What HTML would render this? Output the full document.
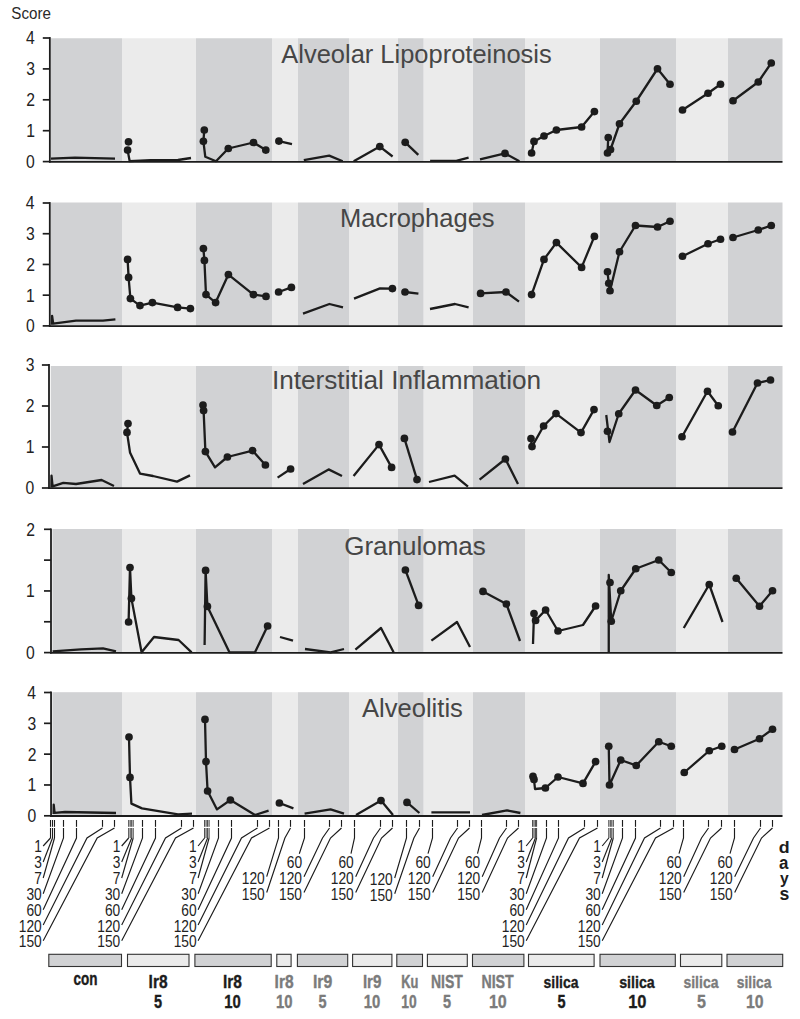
<!DOCTYPE html>
<html><head><meta charset="utf-8"><title>Histopathology scores</title>
<style>
html,body{margin:0;padding:0;background:#fff;}
body{width:800px;height:1019px;overflow:hidden;}
svg{display:block;}
text{font-family:"Liberation Sans",sans-serif;}
.num{font-size:18px;fill:#222;}
.ttl{font-size:24px;fill:#1f1f1f;}
.day{font-size:16px;fill:#222;}
.leg{font-size:16.5px;font-weight:bold;}
</style></head><body>
<svg width="800" height="1019" viewBox="0 0 800 1019">
<rect x="0" y="0" width="800" height="1019" fill="#fff"/>
<text x="0" y="0" font-size="16.13" fill="#2a2a2a" transform="translate(11.32,18.75) scale(0.9401,1.0000)">Score</text>
<g>
<rect x="51" y="38.25" width="71" height="123.35" fill="#d1d2d4"/>
<rect x="122" y="38.25" width="74" height="123.35" fill="#ebebeb"/>
<rect x="196" y="38.25" width="76" height="123.35" fill="#d1d2d4"/>
<rect x="272" y="38.25" width="26" height="123.35" fill="#ebebeb"/>
<rect x="298" y="38.25" width="51" height="123.35" fill="#d1d2d4"/>
<rect x="349" y="38.25" width="49" height="123.35" fill="#ebebeb"/>
<rect x="398" y="38.25" width="25.7" height="123.35" fill="#d1d2d4"/>
<rect x="423.7" y="38.25" width="49.3" height="123.35" fill="#ebebeb"/>
<rect x="473" y="38.25" width="52" height="123.35" fill="#d1d2d4"/>
<rect x="525" y="38.25" width="75" height="123.35" fill="#ebebeb"/>
<rect x="600" y="38.25" width="76" height="123.35" fill="#d1d2d4"/>
<rect x="676" y="38.25" width="52" height="123.35" fill="#ebebeb"/>
<rect x="728" y="38.25" width="54.5" height="123.35" fill="#d1d2d4"/>
<text x="0" y="0" font-size="25.00" fill="#464646" transform="translate(281.24,63.10) scale(1.0197,1.0000)">Alveolar Lipoproteinosis</text>
<path d="M49.85,37.1 V162.6" stroke="#1c1c1c" stroke-width="1.8" fill="none"/>
<path d="M48.95,161.8 H782.5" stroke="#1c1c1c" stroke-width="1.8" fill="none"/>
<path d="M42.8,161.6 H49.85" stroke="#1c1c1c" stroke-width="1.7" fill="none"/>
<text x="0" y="0" font-size="18.50" fill="#222" transform="translate(26.11,168.00) scale(0.8500,1)">0</text>
<path d="M42.8,130.7 H49.85" stroke="#1c1c1c" stroke-width="1.7" fill="none"/>
<text x="0" y="0" font-size="18.50" fill="#222" transform="translate(26.27,137.10) scale(0.8500,1)">1</text>
<path d="M42.8,99.8 H49.85" stroke="#1c1c1c" stroke-width="1.7" fill="none"/>
<text x="0" y="0" font-size="18.50" fill="#222" transform="translate(26.31,106.20) scale(0.8500,1)">2</text>
<path d="M42.8,68.9 H49.85" stroke="#1c1c1c" stroke-width="1.7" fill="none"/>
<text x="0" y="0" font-size="18.50" fill="#222" transform="translate(26.19,75.30) scale(0.8500,1)">3</text>
<path d="M42.8,38 H49.85" stroke="#1c1c1c" stroke-width="1.7" fill="none"/>
<text x="0" y="0" font-size="18.50" fill="#222" transform="translate(25.96,44.40) scale(0.8500,1)">4</text>
<polyline points="51,158.6 75,157.6 115,158.6" fill="none" stroke="#1c1c1c" stroke-width="2.3" stroke-linejoin="round" stroke-linecap="butt"/>
<polyline points="127.6,150.1 129.7,161.2 150.6,160.1 178,160 191,158" fill="none" stroke="#1c1c1c" stroke-width="2.3" stroke-linejoin="round" stroke-linecap="butt"/>
<circle cx="128.5" cy="141.8" r="3.85" fill="#1c1c1c"/>
<circle cx="127.6" cy="150.1" r="3.85" fill="#1c1c1c"/>
<polyline points="204.3,130 203.4,141.3 205.3,156.8 216,161.2 228.3,148.5 253.5,142.5 265.8,150.1" fill="none" stroke="#1c1c1c" stroke-width="2.3" stroke-linejoin="round" stroke-linecap="butt"/>
<circle cx="204.3" cy="130" r="3.85" fill="#1c1c1c"/>
<circle cx="203.4" cy="141.3" r="3.85" fill="#1c1c1c"/>
<circle cx="228.3" cy="148.5" r="3.85" fill="#1c1c1c"/>
<circle cx="253.5" cy="142.5" r="3.85" fill="#1c1c1c"/>
<circle cx="265.8" cy="150.1" r="3.85" fill="#1c1c1c"/>
<polyline points="278.9,141.1 292,144.2" fill="none" stroke="#1c1c1c" stroke-width="2.3" stroke-linejoin="round" stroke-linecap="butt"/>
<circle cx="278.9" cy="141.1" r="3.85" fill="#1c1c1c"/>
<polyline points="303.8,160.1 329.2,155.6 342.7,161.2" fill="none" stroke="#1c1c1c" stroke-width="2.3" stroke-linejoin="round" stroke-linecap="butt"/>
<polyline points="353.7,161.2 379.8,146.6 392.6,156.5" fill="none" stroke="#1c1c1c" stroke-width="2.3" stroke-linejoin="round" stroke-linecap="butt"/>
<circle cx="379.8" cy="146.6" r="3.85" fill="#1c1c1c"/>
<polyline points="405.2,142.3 418.3,154.9" fill="none" stroke="#1c1c1c" stroke-width="2.3" stroke-linejoin="round" stroke-linecap="butt"/>
<circle cx="405.2" cy="142.3" r="3.85" fill="#1c1c1c"/>
<polyline points="430.1,160.8 456.3,160.8 468.6,157.7" fill="none" stroke="#1c1c1c" stroke-width="2.3" stroke-linejoin="round" stroke-linecap="butt"/>
<polyline points="480,159.4 505,153.4 519.4,161.2" fill="none" stroke="#1c1c1c" stroke-width="2.3" stroke-linejoin="round" stroke-linecap="butt"/>
<circle cx="505" cy="153.4" r="3.85" fill="#1c1c1c"/>
<polyline points="531.6,153 534,141.4 544,136 556.4,130 581.6,127 594.4,111.6" fill="none" stroke="#1c1c1c" stroke-width="2.3" stroke-linejoin="round" stroke-linecap="butt"/>
<circle cx="531.6" cy="153" r="3.85" fill="#1c1c1c"/>
<circle cx="534" cy="141.4" r="3.85" fill="#1c1c1c"/>
<circle cx="544" cy="136" r="3.85" fill="#1c1c1c"/>
<circle cx="556.4" cy="130" r="3.85" fill="#1c1c1c"/>
<circle cx="581.6" cy="127" r="3.85" fill="#1c1c1c"/>
<circle cx="594.4" cy="111.6" r="3.85" fill="#1c1c1c"/>
<polyline points="608.25,137.5 607.5,153 610.5,149.5 619.5,123.75 636.25,101.25 657.5,68.75 670,84.25" fill="none" stroke="#1c1c1c" stroke-width="2.3" stroke-linejoin="round" stroke-linecap="butt"/>
<circle cx="607.5" cy="153" r="3.85" fill="#1c1c1c"/>
<circle cx="608.25" cy="137.5" r="3.85" fill="#1c1c1c"/>
<circle cx="610.5" cy="149.5" r="3.85" fill="#1c1c1c"/>
<circle cx="619.5" cy="123.75" r="3.85" fill="#1c1c1c"/>
<circle cx="636.25" cy="101.25" r="3.85" fill="#1c1c1c"/>
<circle cx="657.5" cy="68.75" r="3.85" fill="#1c1c1c"/>
<circle cx="670" cy="84.25" r="3.85" fill="#1c1c1c"/>
<polyline points="682.5,110 708,93.25 720.5,84.25" fill="none" stroke="#1c1c1c" stroke-width="2.3" stroke-linejoin="round" stroke-linecap="butt"/>
<circle cx="682.5" cy="110" r="3.85" fill="#1c1c1c"/>
<circle cx="708" cy="93.25" r="3.85" fill="#1c1c1c"/>
<circle cx="720.5" cy="84.25" r="3.85" fill="#1c1c1c"/>
<polyline points="733,100.75 758.25,82 771.25,63" fill="none" stroke="#1c1c1c" stroke-width="2.3" stroke-linejoin="round" stroke-linecap="butt"/>
<circle cx="733" cy="100.75" r="3.85" fill="#1c1c1c"/>
<circle cx="758.25" cy="82" r="3.85" fill="#1c1c1c"/>
<circle cx="771.25" cy="63" r="3.85" fill="#1c1c1c"/>
</g>
<g>
<rect x="51" y="202.5" width="71" height="123.4" fill="#d1d2d4"/>
<rect x="122" y="202.5" width="74" height="123.4" fill="#ebebeb"/>
<rect x="196" y="202.5" width="76" height="123.4" fill="#d1d2d4"/>
<rect x="272" y="202.5" width="26" height="123.4" fill="#ebebeb"/>
<rect x="298" y="202.5" width="51" height="123.4" fill="#d1d2d4"/>
<rect x="349" y="202.5" width="49" height="123.4" fill="#ebebeb"/>
<rect x="398" y="202.5" width="25.7" height="123.4" fill="#d1d2d4"/>
<rect x="423.7" y="202.5" width="49.3" height="123.4" fill="#ebebeb"/>
<rect x="473" y="202.5" width="52" height="123.4" fill="#d1d2d4"/>
<rect x="525" y="202.5" width="75" height="123.4" fill="#ebebeb"/>
<rect x="600" y="202.5" width="76" height="123.4" fill="#d1d2d4"/>
<rect x="676" y="202.5" width="52" height="123.4" fill="#ebebeb"/>
<rect x="728" y="202.5" width="54.5" height="123.4" fill="#d1d2d4"/>
<text x="0" y="0" font-size="25.00" fill="#464646" transform="translate(339.89,226.70) scale(1.0218,1.0000)">Macrophages</text>
<path d="M49.8,202.1 V326.9" stroke="#1c1c1c" stroke-width="1.8" fill="none"/>
<path d="M48.9,326.1 H782.5" stroke="#1c1c1c" stroke-width="1.8" fill="none"/>
<path d="M42.7,325.9 H49.8" stroke="#1c1c1c" stroke-width="1.7" fill="none"/>
<text x="0" y="0" font-size="18.50" fill="#222" transform="translate(25.96,332.30) scale(0.8500,1)">0</text>
<path d="M42.7,295.17 H49.8" stroke="#1c1c1c" stroke-width="1.7" fill="none"/>
<text x="0" y="0" font-size="18.50" fill="#222" transform="translate(26.12,301.57) scale(0.8500,1)">1</text>
<path d="M42.7,264.45 H49.8" stroke="#1c1c1c" stroke-width="1.7" fill="none"/>
<text x="0" y="0" font-size="18.50" fill="#222" transform="translate(26.16,270.85) scale(0.8500,1)">2</text>
<path d="M42.7,233.72 H49.8" stroke="#1c1c1c" stroke-width="1.7" fill="none"/>
<text x="0" y="0" font-size="18.50" fill="#222" transform="translate(26.04,240.12) scale(0.8500,1)">3</text>
<path d="M42.7,203 H49.8" stroke="#1c1c1c" stroke-width="1.7" fill="none"/>
<text x="0" y="0" font-size="18.50" fill="#222" transform="translate(25.81,209.40) scale(0.8500,1)">4</text>
<polyline points="52,324.8 52.1,315.8 53.2,323.6 76,320.6 103,320.6 115.4,319.4" fill="none" stroke="#1c1c1c" stroke-width="2.3" stroke-linejoin="round" stroke-linecap="butt"/>
<polyline points="127.6,259.4 128.6,277.4 130.4,298.6 140,305.6 152.4,302.6 177.6,307.4 190.4,308.6" fill="none" stroke="#1c1c1c" stroke-width="2.3" stroke-linejoin="round" stroke-linecap="butt"/>
<circle cx="127.6" cy="259.4" r="3.85" fill="#1c1c1c"/>
<circle cx="128.6" cy="277.4" r="3.85" fill="#1c1c1c"/>
<circle cx="130.4" cy="298.6" r="3.85" fill="#1c1c1c"/>
<circle cx="140" cy="305.6" r="3.85" fill="#1c1c1c"/>
<circle cx="152.4" cy="302.6" r="3.85" fill="#1c1c1c"/>
<circle cx="177.6" cy="307.4" r="3.85" fill="#1c1c1c"/>
<circle cx="190.4" cy="308.6" r="3.85" fill="#1c1c1c"/>
<polyline points="203.4,248.6 204.4,260.4 206,294.6 215.6,302.6 228.4,274.6 253.4,294.6 266,296.4" fill="none" stroke="#1c1c1c" stroke-width="2.3" stroke-linejoin="round" stroke-linecap="butt"/>
<circle cx="203.4" cy="248.6" r="3.85" fill="#1c1c1c"/>
<circle cx="204.4" cy="260.4" r="3.85" fill="#1c1c1c"/>
<circle cx="206" cy="294.6" r="3.85" fill="#1c1c1c"/>
<circle cx="215.6" cy="302.6" r="3.85" fill="#1c1c1c"/>
<circle cx="228.4" cy="274.6" r="3.85" fill="#1c1c1c"/>
<circle cx="253.4" cy="294.6" r="3.85" fill="#1c1c1c"/>
<circle cx="266" cy="296.4" r="3.85" fill="#1c1c1c"/>
<polyline points="278.6,292 291.4,287.4" fill="none" stroke="#1c1c1c" stroke-width="2.3" stroke-linejoin="round" stroke-linecap="butt"/>
<circle cx="278.6" cy="292" r="3.85" fill="#1c1c1c"/>
<circle cx="291.4" cy="287.4" r="3.85" fill="#1c1c1c"/>
<polyline points="303,313.6 329.4,304 343,307.4" fill="none" stroke="#1c1c1c" stroke-width="2.3" stroke-linejoin="round" stroke-linecap="butt"/>
<polyline points="354,298.6 380,288.4 392.4,288.6" fill="none" stroke="#1c1c1c" stroke-width="2.3" stroke-linejoin="round" stroke-linecap="butt"/>
<circle cx="392.4" cy="288.6" r="3.85" fill="#1c1c1c"/>
<polyline points="405,292 418.4,293.6" fill="none" stroke="#1c1c1c" stroke-width="2.3" stroke-linejoin="round" stroke-linecap="butt"/>
<circle cx="405" cy="292" r="3.85" fill="#1c1c1c"/>
<polyline points="430,309 455,304 468.6,307.4" fill="none" stroke="#1c1c1c" stroke-width="2.3" stroke-linejoin="round" stroke-linecap="butt"/>
<polyline points="480.6,293.4 506,292 519,301.6" fill="none" stroke="#1c1c1c" stroke-width="2.3" stroke-linejoin="round" stroke-linecap="butt"/>
<circle cx="480.6" cy="293.4" r="3.85" fill="#1c1c1c"/>
<circle cx="506" cy="292" r="3.85" fill="#1c1c1c"/>
<polyline points="532.2,291 531.6,294.6 544,259.4 556.4,242.6 581.6,267.4 594.4,236.4" fill="none" stroke="#1c1c1c" stroke-width="2.3" stroke-linejoin="round" stroke-linecap="butt"/>
<circle cx="531.6" cy="294.6" r="3.85" fill="#1c1c1c"/>
<circle cx="544" cy="259.4" r="3.85" fill="#1c1c1c"/>
<circle cx="556.4" cy="242.6" r="3.85" fill="#1c1c1c"/>
<circle cx="581.6" cy="267.4" r="3.85" fill="#1c1c1c"/>
<circle cx="594.4" cy="236.4" r="3.85" fill="#1c1c1c"/>
<polyline points="607.5,271.75 608.75,283.25 610,290.75 619.5,251.75 635.5,225.5 657.5,227 670,221.25" fill="none" stroke="#1c1c1c" stroke-width="2.3" stroke-linejoin="round" stroke-linecap="butt"/>
<circle cx="607.5" cy="271.75" r="3.85" fill="#1c1c1c"/>
<circle cx="608.75" cy="283.25" r="3.85" fill="#1c1c1c"/>
<circle cx="610" cy="290.75" r="3.85" fill="#1c1c1c"/>
<circle cx="619.5" cy="251.75" r="3.85" fill="#1c1c1c"/>
<circle cx="635.5" cy="225.5" r="3.85" fill="#1c1c1c"/>
<circle cx="657.5" cy="227" r="3.85" fill="#1c1c1c"/>
<circle cx="670" cy="221.25" r="3.85" fill="#1c1c1c"/>
<polyline points="682.5,256.25 708,243.75 720.5,239.25" fill="none" stroke="#1c1c1c" stroke-width="2.3" stroke-linejoin="round" stroke-linecap="butt"/>
<circle cx="682.5" cy="256.25" r="3.85" fill="#1c1c1c"/>
<circle cx="708" cy="243.75" r="3.85" fill="#1c1c1c"/>
<circle cx="720.5" cy="239.25" r="3.85" fill="#1c1c1c"/>
<polyline points="733,237.5 758.25,230 771.25,225.5" fill="none" stroke="#1c1c1c" stroke-width="2.3" stroke-linejoin="round" stroke-linecap="butt"/>
<circle cx="733" cy="237.5" r="3.85" fill="#1c1c1c"/>
<circle cx="758.25" cy="230" r="3.85" fill="#1c1c1c"/>
<circle cx="771.25" cy="225.5" r="3.85" fill="#1c1c1c"/>
</g>
<g>
<rect x="50.75" y="366" width="71.25" height="122" fill="#d1d2d4"/>
<rect x="122" y="366" width="74" height="122" fill="#ebebeb"/>
<rect x="196" y="366" width="76" height="122" fill="#d1d2d4"/>
<rect x="272" y="366" width="26" height="122" fill="#ebebeb"/>
<rect x="298" y="366" width="51" height="122" fill="#d1d2d4"/>
<rect x="349" y="366" width="49" height="122" fill="#ebebeb"/>
<rect x="398" y="366" width="25.7" height="122" fill="#d1d2d4"/>
<rect x="423.7" y="366" width="49.3" height="122" fill="#ebebeb"/>
<rect x="473" y="366" width="52" height="122" fill="#d1d2d4"/>
<rect x="525" y="366" width="75" height="122" fill="#ebebeb"/>
<rect x="600" y="366" width="76" height="122" fill="#d1d2d4"/>
<rect x="676" y="366" width="52" height="122" fill="#ebebeb"/>
<rect x="728" y="366" width="54.5" height="122" fill="#d1d2d4"/>
<text x="0" y="0" font-size="25.00" fill="#464646" transform="translate(271.88,389.30) scale(1.0476,1.0000)">Interstitial Inflammation</text>
<path d="M49,364.1 V489" stroke="#1c1c1c" stroke-width="1.8" fill="none"/>
<path d="M48.1,488.2 H782.5" stroke="#1c1c1c" stroke-width="1.8" fill="none"/>
<path d="M41.9,488 H49" stroke="#1c1c1c" stroke-width="1.7" fill="none"/>
<text x="0" y="0" font-size="18.50" fill="#222" transform="translate(25.56,494.40) scale(0.8500,1)">0</text>
<path d="M41.9,447 H49" stroke="#1c1c1c" stroke-width="1.7" fill="none"/>
<text x="0" y="0" font-size="18.50" fill="#222" transform="translate(25.72,453.40) scale(0.8500,1)">1</text>
<path d="M41.9,406 H49" stroke="#1c1c1c" stroke-width="1.7" fill="none"/>
<text x="0" y="0" font-size="18.50" fill="#222" transform="translate(25.76,412.40) scale(0.8500,1)">2</text>
<path d="M41.9,365 H49" stroke="#1c1c1c" stroke-width="1.7" fill="none"/>
<text x="0" y="0" font-size="18.50" fill="#222" transform="translate(25.64,371.40) scale(0.8500,1)">3</text>
<polyline points="51.4,487.5 51.5,475.6 52.6,486.4 63.3,482.8 76,484 101.6,480 114,486" fill="none" stroke="#1c1c1c" stroke-width="2.3" stroke-linejoin="round" stroke-linecap="butt"/>
<polyline points="128,423.6 127,432.4 130,452.4 140,473.6 153,476 177,481.6 190,475.4" fill="none" stroke="#1c1c1c" stroke-width="2.3" stroke-linejoin="round" stroke-linecap="butt"/>
<circle cx="128" cy="423.6" r="3.85" fill="#1c1c1c"/>
<circle cx="127" cy="432.4" r="3.85" fill="#1c1c1c"/>
<polyline points="203,405 203.6,410.6 205.4,451.6 215,467.4 227.4,457 252.6,450.6 265.4,465" fill="none" stroke="#1c1c1c" stroke-width="2.3" stroke-linejoin="round" stroke-linecap="butt"/>
<circle cx="203" cy="405" r="3.85" fill="#1c1c1c"/>
<circle cx="203.6" cy="410.6" r="3.85" fill="#1c1c1c"/>
<circle cx="205.4" cy="451.6" r="3.85" fill="#1c1c1c"/>
<circle cx="227.4" cy="457" r="3.85" fill="#1c1c1c"/>
<circle cx="252.6" cy="450.6" r="3.85" fill="#1c1c1c"/>
<circle cx="265.4" cy="465" r="3.85" fill="#1c1c1c"/>
<polyline points="277.6,477.6 290.6,469" fill="none" stroke="#1c1c1c" stroke-width="2.3" stroke-linejoin="round" stroke-linecap="butt"/>
<circle cx="290.6" cy="469" r="3.85" fill="#1c1c1c"/>
<polyline points="303,484 328.6,469.4 342,476" fill="none" stroke="#1c1c1c" stroke-width="2.3" stroke-linejoin="round" stroke-linecap="butt"/>
<polyline points="353.6,476 379,444.6 391.6,467.4" fill="none" stroke="#1c1c1c" stroke-width="2.3" stroke-linejoin="round" stroke-linecap="butt"/>
<circle cx="379" cy="444.6" r="3.85" fill="#1c1c1c"/>
<circle cx="391.6" cy="467.4" r="3.85" fill="#1c1c1c"/>
<polyline points="404.4,438.4 417,479.6" fill="none" stroke="#1c1c1c" stroke-width="2.3" stroke-linejoin="round" stroke-linecap="butt"/>
<circle cx="404.4" cy="438.4" r="3.85" fill="#1c1c1c"/>
<circle cx="417" cy="479.6" r="3.85" fill="#1c1c1c"/>
<polyline points="429,482 454.6,475.6 468,486.6" fill="none" stroke="#1c1c1c" stroke-width="2.3" stroke-linejoin="round" stroke-linecap="butt"/>
<polyline points="479.6,479.6 505.4,459 518,484" fill="none" stroke="#1c1c1c" stroke-width="2.3" stroke-linejoin="round" stroke-linecap="butt"/>
<circle cx="505.4" cy="459" r="3.85" fill="#1c1c1c"/>
<polyline points="531,438.6 532,446.6 543.6,426 556,413.6 581,432.6 594,409.6" fill="none" stroke="#1c1c1c" stroke-width="2.3" stroke-linejoin="round" stroke-linecap="butt"/>
<circle cx="531" cy="438.6" r="3.85" fill="#1c1c1c"/>
<circle cx="532" cy="446.6" r="3.85" fill="#1c1c1c"/>
<circle cx="543.6" cy="426" r="3.85" fill="#1c1c1c"/>
<circle cx="556" cy="413.6" r="3.85" fill="#1c1c1c"/>
<circle cx="581" cy="432.6" r="3.85" fill="#1c1c1c"/>
<circle cx="594" cy="409.6" r="3.85" fill="#1c1c1c"/>
<polyline points="606.25,415 609.5,442 618.75,413.75 635.5,390 656.75,405.5 669.25,397.5" fill="none" stroke="#1c1c1c" stroke-width="2.3" stroke-linejoin="round" stroke-linecap="butt"/>
<circle cx="607.5" cy="431.25" r="3.85" fill="#1c1c1c"/>
<circle cx="618.75" cy="413.75" r="3.85" fill="#1c1c1c"/>
<circle cx="635.5" cy="390" r="3.85" fill="#1c1c1c"/>
<circle cx="656.75" cy="405.5" r="3.85" fill="#1c1c1c"/>
<circle cx="669.25" cy="397.5" r="3.85" fill="#1c1c1c"/>
<polyline points="682,436.75 707.5,391.25 718.25,405.75" fill="none" stroke="#1c1c1c" stroke-width="2.3" stroke-linejoin="round" stroke-linecap="butt"/>
<circle cx="682" cy="436.75" r="3.85" fill="#1c1c1c"/>
<circle cx="707.5" cy="391.25" r="3.85" fill="#1c1c1c"/>
<circle cx="718.25" cy="405.75" r="3.85" fill="#1c1c1c"/>
<polyline points="732.5,432 757.5,383 770.5,380" fill="none" stroke="#1c1c1c" stroke-width="2.3" stroke-linejoin="round" stroke-linecap="butt"/>
<circle cx="732.5" cy="432" r="3.85" fill="#1c1c1c"/>
<circle cx="757.5" cy="383" r="3.85" fill="#1c1c1c"/>
<circle cx="770.5" cy="380" r="3.85" fill="#1c1c1c"/>
</g>
<g>
<rect x="52.4" y="529" width="69.6" height="123.6" fill="#d1d2d4"/>
<rect x="122" y="529" width="74" height="123.6" fill="#ebebeb"/>
<rect x="196" y="529" width="76" height="123.6" fill="#d1d2d4"/>
<rect x="272" y="529" width="26" height="123.6" fill="#ebebeb"/>
<rect x="298" y="529" width="51" height="123.6" fill="#d1d2d4"/>
<rect x="349" y="529" width="49" height="123.6" fill="#ebebeb"/>
<rect x="398" y="529" width="25.7" height="123.6" fill="#d1d2d4"/>
<rect x="423.7" y="529" width="49.3" height="123.6" fill="#ebebeb"/>
<rect x="473" y="529" width="52" height="123.6" fill="#d1d2d4"/>
<rect x="525" y="529" width="75" height="123.6" fill="#ebebeb"/>
<rect x="600" y="529" width="76" height="123.6" fill="#d1d2d4"/>
<rect x="676" y="529" width="52" height="123.6" fill="#ebebeb"/>
<rect x="728" y="529" width="54.5" height="123.6" fill="#d1d2d4"/>
<text x="0" y="0" font-size="25.00" fill="#464646" transform="translate(344.20,554.50) scale(1.0406,1.0000)">Granulomas</text>
<path d="M51,528.4 V653.6" stroke="#1c1c1c" stroke-width="1.8" fill="none"/>
<path d="M50.1,652.8 H782.5" stroke="#1c1c1c" stroke-width="1.8" fill="none"/>
<path d="M44,652.6 H51" stroke="#1c1c1c" stroke-width="1.7" fill="none"/>
<text x="0" y="0" font-size="18.50" fill="#222" transform="translate(25.96,659.00) scale(0.8500,1)">0</text>
<path d="M44,621.77 H51" stroke="#1c1c1c" stroke-width="1.7" fill="none"/>
<path d="M44,590.95 H51" stroke="#1c1c1c" stroke-width="1.7" fill="none"/>
<text x="0" y="0" font-size="18.50" fill="#222" transform="translate(26.12,597.35) scale(0.8500,1)">1</text>
<path d="M44,560.12 H51" stroke="#1c1c1c" stroke-width="1.7" fill="none"/>
<path d="M44,529.3 H51" stroke="#1c1c1c" stroke-width="1.7" fill="none"/>
<text x="0" y="0" font-size="18.50" fill="#222" transform="translate(26.16,535.70) scale(0.8500,1)">2</text>
<polyline points="52.6,651.4 81,649.4 103,648.4 116,651.4" fill="none" stroke="#1c1c1c" stroke-width="2.3" stroke-linejoin="round" stroke-linecap="butt"/>
<polyline points="128.6,622 130,567.6 131.4,598.4 141.6,652.3 154,637 178.6,640 191.6,652.3" fill="none" stroke="#1c1c1c" stroke-width="2.3" stroke-linejoin="round" stroke-linecap="butt"/>
<circle cx="130" cy="567.6" r="3.85" fill="#1c1c1c"/>
<circle cx="131.4" cy="598.4" r="3.85" fill="#1c1c1c"/>
<circle cx="128.6" cy="622" r="3.85" fill="#1c1c1c"/>
<polyline points="204.6,645 205.6,570.4 207.4,606.4 229.4,652.3 255,652.3 267.6,626" fill="none" stroke="#1c1c1c" stroke-width="2.3" stroke-linejoin="round" stroke-linecap="butt"/>
<circle cx="205.6" cy="570.4" r="3.85" fill="#1c1c1c"/>
<circle cx="207.4" cy="606.4" r="3.85" fill="#1c1c1c"/>
<circle cx="267.6" cy="626" r="3.85" fill="#1c1c1c"/>
<polyline points="280,637 293,640.6" fill="none" stroke="#1c1c1c" stroke-width="2.3" stroke-linejoin="round" stroke-linecap="butt"/>
<polyline points="305,649 330.6,652.3 344,649" fill="none" stroke="#1c1c1c" stroke-width="2.3" stroke-linejoin="round" stroke-linecap="butt"/>
<polyline points="355.4,649.6 381,628 393.6,652.3" fill="none" stroke="#1c1c1c" stroke-width="2.3" stroke-linejoin="round" stroke-linecap="butt"/>
<polyline points="405.4,570 418.6,605.4" fill="none" stroke="#1c1c1c" stroke-width="2.3" stroke-linejoin="round" stroke-linecap="butt"/>
<circle cx="405.4" cy="570" r="3.85" fill="#1c1c1c"/>
<circle cx="418.6" cy="605.4" r="3.85" fill="#1c1c1c"/>
<polyline points="431.4,640.6 457,622 470,647" fill="none" stroke="#1c1c1c" stroke-width="2.3" stroke-linejoin="round" stroke-linecap="butt"/>
<polyline points="483,591.4 506.4,604 520,641" fill="none" stroke="#1c1c1c" stroke-width="2.3" stroke-linejoin="round" stroke-linecap="butt"/>
<circle cx="483" cy="591.4" r="3.85" fill="#1c1c1c"/>
<circle cx="506.4" cy="604" r="3.85" fill="#1c1c1c"/>
<polyline points="533,644 534,613.6 535.6,620.4 545.6,610 558,631 583,625 595.6,606" fill="none" stroke="#1c1c1c" stroke-width="2.3" stroke-linejoin="round" stroke-linecap="butt"/>
<circle cx="534" cy="613.6" r="3.85" fill="#1c1c1c"/>
<circle cx="535.6" cy="620.4" r="3.85" fill="#1c1c1c"/>
<circle cx="545.6" cy="610" r="3.85" fill="#1c1c1c"/>
<circle cx="558" cy="631" r="3.85" fill="#1c1c1c"/>
<circle cx="595.6" cy="606" r="3.85" fill="#1c1c1c"/>
<polyline points="608.75,652.5 608.75,575 611.25,621.25 620.75,590.75 635.75,568.75 658.75,560 671.25,572.5" fill="none" stroke="#1c1c1c" stroke-width="2.3" stroke-linejoin="round" stroke-linecap="butt"/>
<circle cx="610" cy="582.5" r="3.85" fill="#1c1c1c"/>
<circle cx="611.25" cy="621.25" r="3.85" fill="#1c1c1c"/>
<circle cx="620.75" cy="590.75" r="3.85" fill="#1c1c1c"/>
<circle cx="635.75" cy="568.75" r="3.85" fill="#1c1c1c"/>
<circle cx="658.75" cy="560" r="3.85" fill="#1c1c1c"/>
<circle cx="671.25" cy="572.5" r="3.85" fill="#1c1c1c"/>
<polyline points="683.75,628 709.25,584.5 722.5,622" fill="none" stroke="#1c1c1c" stroke-width="2.3" stroke-linejoin="round" stroke-linecap="butt"/>
<circle cx="709.25" cy="584.5" r="3.85" fill="#1c1c1c"/>
<polyline points="736.25,578.25 759.5,606.25 772.5,590.75" fill="none" stroke="#1c1c1c" stroke-width="2.3" stroke-linejoin="round" stroke-linecap="butt"/>
<circle cx="736.25" cy="578.25" r="3.85" fill="#1c1c1c"/>
<circle cx="759.5" cy="606.25" r="3.85" fill="#1c1c1c"/>
<circle cx="772.5" cy="590.75" r="3.85" fill="#1c1c1c"/>
</g>
<g>
<rect x="52.4" y="692.2" width="69.6" height="123.6" fill="#d1d2d4"/>
<rect x="122" y="692.2" width="74" height="123.6" fill="#ebebeb"/>
<rect x="196" y="692.2" width="76" height="123.6" fill="#d1d2d4"/>
<rect x="272" y="692.2" width="26" height="123.6" fill="#ebebeb"/>
<rect x="298" y="692.2" width="51" height="123.6" fill="#d1d2d4"/>
<rect x="349" y="692.2" width="49" height="123.6" fill="#ebebeb"/>
<rect x="398" y="692.2" width="25.7" height="123.6" fill="#d1d2d4"/>
<rect x="423.7" y="692.2" width="49.3" height="123.6" fill="#ebebeb"/>
<rect x="473" y="692.2" width="52" height="123.6" fill="#d1d2d4"/>
<rect x="525" y="692.2" width="75" height="123.6" fill="#ebebeb"/>
<rect x="600" y="692.2" width="76" height="123.6" fill="#d1d2d4"/>
<rect x="676" y="692.2" width="52" height="123.6" fill="#ebebeb"/>
<rect x="728" y="692.2" width="54.5" height="123.6" fill="#d1d2d4"/>
<text x="0" y="0" font-size="25.00" fill="#464646" transform="translate(361.94,717.00) scale(1.0237,1.0000)">Alveolitis</text>
<path d="M51.05,691.6 V816.8" stroke="#1c1c1c" stroke-width="1.8" fill="none"/>
<path d="M50.15,816 H782.5" stroke="#1c1c1c" stroke-width="1.8" fill="none"/>
<path d="M44,815.8 H51.05" stroke="#1c1c1c" stroke-width="1.7" fill="none"/>
<text x="0" y="0" font-size="18.50" fill="#222" transform="translate(27.46,822.20) scale(0.8500,1)">0</text>
<path d="M44,784.97 H51.05" stroke="#1c1c1c" stroke-width="1.7" fill="none"/>
<text x="0" y="0" font-size="18.50" fill="#222" transform="translate(27.62,791.37) scale(0.8500,1)">1</text>
<path d="M44,754.15 H51.05" stroke="#1c1c1c" stroke-width="1.7" fill="none"/>
<text x="0" y="0" font-size="18.50" fill="#222" transform="translate(27.66,760.55) scale(0.8500,1)">2</text>
<path d="M44,723.33 H51.05" stroke="#1c1c1c" stroke-width="1.7" fill="none"/>
<text x="0" y="0" font-size="18.50" fill="#222" transform="translate(27.54,729.73) scale(0.8500,1)">3</text>
<path d="M44,692.5 H51.05" stroke="#1c1c1c" stroke-width="1.7" fill="none"/>
<text x="0" y="0" font-size="18.50" fill="#222" transform="translate(27.31,698.90) scale(0.8500,1)">4</text>
<polyline points="53.6,814 53.7,804.6 54.6,812.8 65,812 116,813" fill="none" stroke="#1c1c1c" stroke-width="2.3" stroke-linejoin="round" stroke-linecap="butt"/>
<polyline points="129,737 130,777.4 131.4,803.6 142,808.4 178,814.4 192,813.6" fill="none" stroke="#1c1c1c" stroke-width="2.3" stroke-linejoin="round" stroke-linecap="butt"/>
<circle cx="129" cy="737" r="3.85" fill="#1c1c1c"/>
<circle cx="130" cy="777.4" r="3.85" fill="#1c1c1c"/>
<polyline points="205,719.4 206,761.6 207.6,791 217,809.4 230.4,800 255,815 268.6,810.6" fill="none" stroke="#1c1c1c" stroke-width="2.3" stroke-linejoin="round" stroke-linecap="butt"/>
<circle cx="205" cy="719.4" r="3.85" fill="#1c1c1c"/>
<circle cx="206" cy="761.6" r="3.85" fill="#1c1c1c"/>
<circle cx="207.6" cy="791" r="3.85" fill="#1c1c1c"/>
<circle cx="230.4" cy="800" r="3.85" fill="#1c1c1c"/>
<polyline points="279.4,803 293.4,808.4" fill="none" stroke="#1c1c1c" stroke-width="2.3" stroke-linejoin="round" stroke-linecap="butt"/>
<circle cx="279.4" cy="803" r="3.85" fill="#1c1c1c"/>
<polyline points="304.6,813.6 330.6,809.4 344,813.6" fill="none" stroke="#1c1c1c" stroke-width="2.3" stroke-linejoin="round" stroke-linecap="butt"/>
<polyline points="356,815 381,800.6 393,815" fill="none" stroke="#1c1c1c" stroke-width="2.3" stroke-linejoin="round" stroke-linecap="butt"/>
<circle cx="381" cy="800.6" r="3.85" fill="#1c1c1c"/>
<polyline points="407,802.4 419.4,813" fill="none" stroke="#1c1c1c" stroke-width="2.3" stroke-linejoin="round" stroke-linecap="butt"/>
<circle cx="407" cy="802.4" r="3.85" fill="#1c1c1c"/>
<polyline points="431.4,812.4 470,812.4" fill="none" stroke="#1c1c1c" stroke-width="2.3" stroke-linejoin="round" stroke-linecap="butt"/>
<polyline points="482,815 507,810.4 520.4,813" fill="none" stroke="#1c1c1c" stroke-width="2.3" stroke-linejoin="round" stroke-linecap="butt"/>
<polyline points="533,776.4 534,779.4 535,789 545.4,788 558,777 583,783.4 595.6,761.6" fill="none" stroke="#1c1c1c" stroke-width="2.3" stroke-linejoin="round" stroke-linecap="butt"/>
<circle cx="533" cy="776.4" r="3.85" fill="#1c1c1c"/>
<circle cx="534" cy="779.4" r="3.85" fill="#1c1c1c"/>
<circle cx="545.4" cy="788" r="3.85" fill="#1c1c1c"/>
<circle cx="558" cy="777" r="3.85" fill="#1c1c1c"/>
<circle cx="583" cy="783.4" r="3.85" fill="#1c1c1c"/>
<circle cx="595.6" cy="761.6" r="3.85" fill="#1c1c1c"/>
<polyline points="608.75,746.25 609.5,785 620.75,760 636.25,765.5 658.75,741.75 671.25,746.25" fill="none" stroke="#1c1c1c" stroke-width="2.3" stroke-linejoin="round" stroke-linecap="butt"/>
<circle cx="608.75" cy="746.25" r="3.85" fill="#1c1c1c"/>
<circle cx="609.5" cy="785" r="3.85" fill="#1c1c1c"/>
<circle cx="620.75" cy="760" r="3.85" fill="#1c1c1c"/>
<circle cx="636.25" cy="765.5" r="3.85" fill="#1c1c1c"/>
<circle cx="658.75" cy="741.75" r="3.85" fill="#1c1c1c"/>
<circle cx="671.25" cy="746.25" r="3.85" fill="#1c1c1c"/>
<polyline points="684.25,772.5 709.25,750.75 721.75,746.25" fill="none" stroke="#1c1c1c" stroke-width="2.3" stroke-linejoin="round" stroke-linecap="butt"/>
<circle cx="684.25" cy="772.5" r="3.85" fill="#1c1c1c"/>
<circle cx="709.25" cy="750.75" r="3.85" fill="#1c1c1c"/>
<circle cx="721.75" cy="746.25" r="3.85" fill="#1c1c1c"/>
<polyline points="734.5,749.5 759.5,738.75 772.5,729.25" fill="none" stroke="#1c1c1c" stroke-width="2.3" stroke-linejoin="round" stroke-linecap="butt"/>
<circle cx="734.5" cy="749.5" r="3.85" fill="#1c1c1c"/>
<circle cx="759.5" cy="738.75" r="3.85" fill="#1c1c1c"/>
<circle cx="772.5" cy="729.25" r="3.85" fill="#1c1c1c"/>
</g>
<g stroke="#1c1c1c" stroke-width="1.15" fill="none">
<path d="M50.5,820 V826.8" stroke-width="1.1"/>
<path d="M52.5,820 V826.8" stroke-width="1.1"/>
<path d="M54.5,820 V826.8" stroke-width="1.1"/>
<path d="M63.5,820 V826.8"/>
<path d="M76.5,820 V826.8"/>
<path d="M102.5,820 V826.8"/>
<path d="M114.5,820 V826.8"/>
<path d="M50.5,828 V838" stroke-width="1.1"/>
<path d="M52.5,828 V838" stroke-width="1.1"/>
<path d="M54.5,828 V838" stroke-width="1.1"/>
<path d="M50.5,838 L43.2,846"/>
<path d="M52.5,838 L43.2,862"/>
<path d="M54.5,838 L43.2,878"/>
<path d="M63.5,828 V838 L43.2,893.8"/>
<path d="M76.5,828 V838 L43.2,909.8"/>
<path d="M102.5,828 L87,838 L43.2,925.1"/>
<path d="M114.5,828 L97.2,838 L43.2,940.7"/>
<path d="M128.7,820 V826.8" stroke-width="0.85"/>
<path d="M130.2,820 V826.8" stroke-width="0.85"/>
<path d="M131.7,820 V826.8" stroke-width="0.85"/>
<path d="M133.2,820 V826.8" stroke-width="0.85"/>
<path d="M142.5,820 V826.8"/>
<path d="M155.5,820 V826.8"/>
<path d="M181.5,820 V826.8"/>
<path d="M193.5,820 V826.8"/>
<path d="M128.7,828 V838" stroke-width="0.85"/>
<path d="M130.2,828 V838" stroke-width="0.85"/>
<path d="M131.7,828 V838" stroke-width="0.85"/>
<path d="M133.2,828 V838" stroke-width="0.85"/>
<path d="M128.7,838 L121.7,846"/>
<path d="M131.7,838 L121.7,862"/>
<path d="M133.2,838 L121.7,878"/>
<path d="M142.5,828 V838 L121.7,893.8"/>
<path d="M155.5,828 V838 L121.7,909.8"/>
<path d="M181.5,828 L165.5,838 L121.7,925.1"/>
<path d="M193.5,828 L175.5,838 L121.7,940.7"/>
<path d="M204.6,820 V826.8" stroke-width="0.85"/>
<path d="M206.1,820 V826.8" stroke-width="0.85"/>
<path d="M207.6,820 V826.8" stroke-width="0.85"/>
<path d="M209.1,820 V826.8" stroke-width="0.85"/>
<path d="M218.5,820 V826.8"/>
<path d="M231.5,820 V826.8"/>
<path d="M257.5,820 V826.8"/>
<path d="M269.5,820 V826.8"/>
<path d="M204.6,828 V838" stroke-width="0.85"/>
<path d="M206.1,828 V838" stroke-width="0.85"/>
<path d="M207.6,828 V838" stroke-width="0.85"/>
<path d="M209.1,828 V838" stroke-width="0.85"/>
<path d="M204.6,838 L198.1,846"/>
<path d="M207.6,838 L198.1,862"/>
<path d="M209.1,838 L198.1,878"/>
<path d="M218.5,828 V838 L198.1,893.8"/>
<path d="M231.5,828 V838 L198.1,909.8"/>
<path d="M257.5,828 L241.5,838 L198.1,925.1"/>
<path d="M269.5,828 L251.5,838 L198.1,940.7"/>
<path d="M278.5,820 V826.8"/>
<path d="M290.5,820 V826.8"/>
<path d="M278.5,828 L278.5,838 L266.7,876.7"/>
<path d="M290.5,828 L284.9,838 L266.7,892.5"/>
<path d="M304.5,820 V826.8"/>
<path d="M329.5,820 V826.8"/>
<path d="M341.5,820 V826.8"/>
<path d="M304.5,828 V838 L299.3,853.7"/>
<path d="M329.5,828 L322.5,838 L304,876.7"/>
<path d="M341.5,828 L330.5,838 L304,892.5"/>
<path d="M354.5,820 V826.8"/>
<path d="M380.5,820 V826.8"/>
<path d="M392.5,820 V826.8"/>
<path d="M354.5,828 V838 L351,853.7"/>
<path d="M380.5,828 L373.5,838 L355.7,876.7"/>
<path d="M392.5,828 L381.5,838 L355.7,892.5"/>
<path d="M406.5,820 V826.8"/>
<path d="M419.5,820 V826.8"/>
<path d="M406.5,828 L406.5,838 L394.7,878"/>
<path d="M419.5,828 L413.9,838 L394.7,893.8"/>
<path d="M432.5,820 V826.8"/>
<path d="M457.5,820 V826.8"/>
<path d="M469.5,820 V826.8"/>
<path d="M432.5,828 V838 L428,853.7"/>
<path d="M457.5,828 L450.5,838 L432.7,876.7"/>
<path d="M469.5,828 L458.5,838 L432.7,892.5"/>
<path d="M481.5,820 V826.8"/>
<path d="M506.5,820 V826.8"/>
<path d="M518.5,820 V826.8"/>
<path d="M481.5,828 V838 L477.5,853.7"/>
<path d="M506.5,828 L499.5,838 L482.2,876.7"/>
<path d="M518.5,828 L507.5,838 L482.2,892.5"/>
<path d="M532.6,820 V826.8" stroke-width="0.85"/>
<path d="M534,820 V826.8" stroke-width="0.85"/>
<path d="M535.4,820 V826.8" stroke-width="0.85"/>
<path d="M536.6,820 V826.8" stroke-width="0.85"/>
<path d="M546.5,820 V826.8"/>
<path d="M558.5,820 V826.8"/>
<path d="M584.5,820 V826.8"/>
<path d="M597.5,820 V826.8"/>
<path d="M532.6,828 V838" stroke-width="0.85"/>
<path d="M534,828 V838" stroke-width="0.85"/>
<path d="M535.4,828 V838" stroke-width="0.85"/>
<path d="M536.6,828 V838" stroke-width="0.85"/>
<path d="M532.6,838 L526.2,846"/>
<path d="M535.4,838 L526.2,862"/>
<path d="M536.6,838 L526.2,878"/>
<path d="M546.5,828 V838 L526.2,893.8"/>
<path d="M558.5,828 V838 L526.2,909.8"/>
<path d="M584.5,828 L568.5,838 L526.2,925.1"/>
<path d="M597.5,828 L579.5,838 L526.2,940.7"/>
<path d="M608.8,820 V826.8" stroke-width="0.85"/>
<path d="M610.3,820 V826.8" stroke-width="0.85"/>
<path d="M611.8,820 V826.8" stroke-width="0.85"/>
<path d="M613.3,820 V826.8" stroke-width="0.85"/>
<path d="M622.5,820 V826.8"/>
<path d="M635.5,820 V826.8"/>
<path d="M660.5,820 V826.8"/>
<path d="M673.5,820 V826.8"/>
<path d="M608.8,828 V838" stroke-width="0.85"/>
<path d="M610.3,828 V838" stroke-width="0.85"/>
<path d="M611.8,828 V838" stroke-width="0.85"/>
<path d="M613.3,828 V838" stroke-width="0.85"/>
<path d="M608.8,838 L602.2,846"/>
<path d="M611.8,838 L602.2,862"/>
<path d="M613.3,838 L602.2,878"/>
<path d="M622.5,828 V838 L602.2,893.8"/>
<path d="M635.5,828 V838 L602.2,909.8"/>
<path d="M660.5,828 L644.5,838 L602.2,925.1"/>
<path d="M673.5,828 L655.5,838 L602.2,940.7"/>
<path d="M683.5,820 V826.8"/>
<path d="M708.5,820 V826.8"/>
<path d="M721.5,820 V826.8"/>
<path d="M683.5,828 V838 L679,853.7"/>
<path d="M708.5,828 L701.5,838 L683.7,876.7"/>
<path d="M721.5,828 L710.5,838 L683.7,892.5"/>
<path d="M734.5,820 V826.8"/>
<path d="M760.5,820 V826.8"/>
<path d="M772.5,820 V826.8"/>
<path d="M734.5,828 V838 L730,853.7"/>
<path d="M760.5,828 L753.5,838 L734.7,876.7"/>
<path d="M772.5,828 L761.5,838 L734.7,892.5"/>
</g>
<text x="0" y="0" font-size="16.40" fill="#222" transform="translate(34.21,852.00) scale(0.8400,1)">1</text>
<text x="0" y="0" font-size="16.40" fill="#222" transform="translate(34.14,868.00) scale(0.8400,1)">3</text>
<text x="0" y="0" font-size="16.40" fill="#222" transform="translate(34.24,884.00) scale(0.8400,1)">7</text>
<text x="0" y="0" font-size="16.40" fill="#222" transform="translate(26.43,900.00) scale(0.8400,1)">30</text>
<text x="0" y="0" font-size="16.40" fill="#222" transform="translate(26.43,916.00) scale(0.8400,1)">60</text>
<text x="0" y="0" font-size="16.40" fill="#222" transform="translate(18.75,931.60) scale(0.8400,1)">120</text>
<text x="0" y="0" font-size="16.40" fill="#222" transform="translate(18.75,947.20) scale(0.8400,1)">150</text>
<text x="0" y="0" font-size="16.40" fill="#222" transform="translate(112.71,852.00) scale(0.8400,1)">1</text>
<text x="0" y="0" font-size="16.40" fill="#222" transform="translate(112.64,868.00) scale(0.8400,1)">3</text>
<text x="0" y="0" font-size="16.40" fill="#222" transform="translate(112.74,884.00) scale(0.8400,1)">7</text>
<text x="0" y="0" font-size="16.40" fill="#222" transform="translate(104.93,900.00) scale(0.8400,1)">30</text>
<text x="0" y="0" font-size="16.40" fill="#222" transform="translate(104.93,916.00) scale(0.8400,1)">60</text>
<text x="0" y="0" font-size="16.40" fill="#222" transform="translate(97.25,931.60) scale(0.8400,1)">120</text>
<text x="0" y="0" font-size="16.40" fill="#222" transform="translate(97.25,947.20) scale(0.8400,1)">150</text>
<text x="0" y="0" font-size="16.40" fill="#222" transform="translate(189.11,852.00) scale(0.8400,1)">1</text>
<text x="0" y="0" font-size="16.40" fill="#222" transform="translate(189.04,868.00) scale(0.8400,1)">3</text>
<text x="0" y="0" font-size="16.40" fill="#222" transform="translate(189.14,884.00) scale(0.8400,1)">7</text>
<text x="0" y="0" font-size="16.40" fill="#222" transform="translate(181.33,900.00) scale(0.8400,1)">30</text>
<text x="0" y="0" font-size="16.40" fill="#222" transform="translate(181.33,916.00) scale(0.8400,1)">60</text>
<text x="0" y="0" font-size="16.40" fill="#222" transform="translate(173.65,931.60) scale(0.8400,1)">120</text>
<text x="0" y="0" font-size="16.40" fill="#222" transform="translate(173.65,947.20) scale(0.8400,1)">150</text>
<text x="0" y="0" font-size="16.40" fill="#222" transform="translate(241.75,884.00) scale(0.8400,1)">120</text>
<text x="0" y="0" font-size="16.40" fill="#222" transform="translate(241.75,899.80) scale(0.8400,1)">150</text>
<text x="0" y="0" font-size="16.40" fill="#222" transform="translate(286.73,868.00) scale(0.8400,1)">60</text>
<text x="0" y="0" font-size="16.40" fill="#222" transform="translate(279.05,884.00) scale(0.8400,1)">120</text>
<text x="0" y="0" font-size="16.40" fill="#222" transform="translate(279.05,899.80) scale(0.8400,1)">150</text>
<text x="0" y="0" font-size="16.40" fill="#222" transform="translate(338.43,868.00) scale(0.8400,1)">60</text>
<text x="0" y="0" font-size="16.40" fill="#222" transform="translate(330.75,884.00) scale(0.8400,1)">120</text>
<text x="0" y="0" font-size="16.40" fill="#222" transform="translate(330.75,899.80) scale(0.8400,1)">150</text>
<text x="0" y="0" font-size="16.40" fill="#222" transform="translate(369.75,885.30) scale(0.8400,1)">120</text>
<text x="0" y="0" font-size="16.40" fill="#222" transform="translate(369.75,901.10) scale(0.8400,1)">150</text>
<text x="0" y="0" font-size="16.40" fill="#222" transform="translate(415.43,868.00) scale(0.8400,1)">60</text>
<text x="0" y="0" font-size="16.40" fill="#222" transform="translate(407.75,884.00) scale(0.8400,1)">120</text>
<text x="0" y="0" font-size="16.40" fill="#222" transform="translate(407.75,899.80) scale(0.8400,1)">150</text>
<text x="0" y="0" font-size="16.40" fill="#222" transform="translate(464.93,868.00) scale(0.8400,1)">60</text>
<text x="0" y="0" font-size="16.40" fill="#222" transform="translate(457.25,884.00) scale(0.8400,1)">120</text>
<text x="0" y="0" font-size="16.40" fill="#222" transform="translate(457.25,899.80) scale(0.8400,1)">150</text>
<text x="0" y="0" font-size="16.40" fill="#222" transform="translate(517.21,852.00) scale(0.8400,1)">1</text>
<text x="0" y="0" font-size="16.40" fill="#222" transform="translate(517.14,868.00) scale(0.8400,1)">3</text>
<text x="0" y="0" font-size="16.40" fill="#222" transform="translate(517.24,884.00) scale(0.8400,1)">7</text>
<text x="0" y="0" font-size="16.40" fill="#222" transform="translate(509.43,900.00) scale(0.8400,1)">30</text>
<text x="0" y="0" font-size="16.40" fill="#222" transform="translate(509.43,916.00) scale(0.8400,1)">60</text>
<text x="0" y="0" font-size="16.40" fill="#222" transform="translate(501.75,931.60) scale(0.8400,1)">120</text>
<text x="0" y="0" font-size="16.40" fill="#222" transform="translate(501.75,947.20) scale(0.8400,1)">150</text>
<text x="0" y="0" font-size="16.40" fill="#222" transform="translate(593.21,852.00) scale(0.8400,1)">1</text>
<text x="0" y="0" font-size="16.40" fill="#222" transform="translate(593.14,868.00) scale(0.8400,1)">3</text>
<text x="0" y="0" font-size="16.40" fill="#222" transform="translate(593.24,884.00) scale(0.8400,1)">7</text>
<text x="0" y="0" font-size="16.40" fill="#222" transform="translate(585.43,900.00) scale(0.8400,1)">30</text>
<text x="0" y="0" font-size="16.40" fill="#222" transform="translate(585.43,916.00) scale(0.8400,1)">60</text>
<text x="0" y="0" font-size="16.40" fill="#222" transform="translate(577.75,931.60) scale(0.8400,1)">120</text>
<text x="0" y="0" font-size="16.40" fill="#222" transform="translate(577.75,947.20) scale(0.8400,1)">150</text>
<text x="0" y="0" font-size="16.40" fill="#222" transform="translate(666.43,868.00) scale(0.8400,1)">60</text>
<text x="0" y="0" font-size="16.40" fill="#222" transform="translate(658.75,884.00) scale(0.8400,1)">120</text>
<text x="0" y="0" font-size="16.40" fill="#222" transform="translate(658.75,899.80) scale(0.8400,1)">150</text>
<text x="0" y="0" font-size="16.40" fill="#222" transform="translate(717.43,868.00) scale(0.8400,1)">60</text>
<text x="0" y="0" font-size="16.40" fill="#222" transform="translate(709.75,884.00) scale(0.8400,1)">120</text>
<text x="0" y="0" font-size="16.40" fill="#222" transform="translate(709.75,899.80) scale(0.8400,1)">150</text>
<text x="0" y="0" font-size="16.55" font-weight="bold" fill="#1c1c1c" transform="translate(778.79,853.20) scale(1.0767,1.0000)">d</text>
<text x="0" y="0" font-size="18.42" font-weight="bold" fill="#1c1c1c" transform="translate(778.99,868.60) scale(0.9176,1.0000)">a</text>
<text x="0" y="0" font-size="16.68" font-weight="bold" fill="#1c1c1c" transform="translate(779.88,884.00) scale(0.9392,1.0000)">y</text>
<text x="0" y="0" font-size="18.60" font-weight="bold" fill="#1c1c1c" transform="translate(779.38,899.90) scale(0.9518,1.0000)">s</text>
<rect x="48.8" y="954.3" width="72.7" height="12.2" fill="#d1d2d4" stroke="#333" stroke-width="1.1"/>
<rect x="127.5" y="954.3" width="61.5" height="12.2" fill="#ebebeb" stroke="#333" stroke-width="1.1"/>
<rect x="194.9" y="954.3" width="76.3" height="12.2" fill="#d1d2d4" stroke="#333" stroke-width="1.1"/>
<rect x="276.8" y="954.3" width="14.3" height="12.2" fill="#ebebeb" stroke="#333" stroke-width="1.1"/>
<rect x="297.4" y="954.3" width="50.3" height="12.2" fill="#d1d2d4" stroke="#333" stroke-width="1.1"/>
<rect x="352.6" y="954.3" width="39.3" height="12.2" fill="#ebebeb" stroke="#333" stroke-width="1.1"/>
<rect x="396.8" y="954.3" width="25.7" height="12.2" fill="#d1d2d4" stroke="#333" stroke-width="1.1"/>
<rect x="427.4" y="954.3" width="39.9" height="12.2" fill="#ebebeb" stroke="#333" stroke-width="1.1"/>
<rect x="472.5" y="954.3" width="51.4" height="12.2" fill="#d1d2d4" stroke="#333" stroke-width="1.1"/>
<rect x="528.5" y="954.3" width="65.6" height="12.2" fill="#ebebeb" stroke="#333" stroke-width="1.1"/>
<rect x="600" y="954.3" width="75.3" height="12.2" fill="#d1d2d4" stroke="#333" stroke-width="1.1"/>
<rect x="680.5" y="954.3" width="41.3" height="12.2" fill="#ebebeb" stroke="#333" stroke-width="1.1"/>
<rect x="727" y="954.3" width="55.7" height="12.2" fill="#d1d2d4" stroke="#333" stroke-width="1.1"/>
<text x="0" y="0" font-size="18.98" font-weight="bold" fill="#1c1c1c" transform="translate(73.41,984.65) scale(0.7115,1.0000)" stroke="#1c1c1c" stroke-width="0.42" stroke-linejoin="round">con</text>
<text x="0" y="0" font-size="18.21" font-weight="bold" fill="#1c1c1c" transform="translate(148.60,987.85) scale(0.8519,1.0000)" stroke="#1c1c1c" stroke-width="0.35" stroke-linejoin="round">Ir8</text>
<text x="0" y="0" font-size="18.33" font-weight="bold" fill="#1c1c1c" transform="translate(153.97,1008.15) scale(0.7897,1.0000)" stroke="#1c1c1c" stroke-width="0.38" stroke-linejoin="round">5</text>
<text x="0" y="0" font-size="18.21" font-weight="bold" fill="#1c1c1c" transform="translate(222.90,987.85) scale(0.8519,1.0000)" stroke="#1c1c1c" stroke-width="0.35" stroke-linejoin="round">Ir8</text>
<text x="0" y="0" font-size="18.06" font-weight="bold" fill="#1c1c1c" transform="translate(224.22,1008.15) scale(0.8242,1.0000)" stroke="#1c1c1c" stroke-width="0.36" stroke-linejoin="round">10</text>
<text x="0" y="0" font-size="18.21" font-weight="bold" fill="#7b7b7b" transform="translate(274.60,987.85) scale(0.8543,1.0000)" stroke="#7b7b7b" stroke-width="0.35" stroke-linejoin="round">Ir8</text>
<text x="0" y="0" font-size="18.06" font-weight="bold" fill="#7b7b7b" transform="translate(275.97,1008.15) scale(0.8242,1.0000)" stroke="#7b7b7b" stroke-width="0.36" stroke-linejoin="round">10</text>
<text x="0" y="0" font-size="18.21" font-weight="bold" fill="#7b7b7b" transform="translate(312.88,987.85) scale(0.8680,1.0000)" stroke="#7b7b7b" stroke-width="0.35" stroke-linejoin="round">Ir9</text>
<text x="0" y="0" font-size="18.33" font-weight="bold" fill="#7b7b7b" transform="translate(318.47,1008.15) scale(0.7897,1.0000)" stroke="#7b7b7b" stroke-width="0.38" stroke-linejoin="round">5</text>
<text x="0" y="0" font-size="18.21" font-weight="bold" fill="#7b7b7b" transform="translate(362.88,987.85) scale(0.8312,1.0000)" stroke="#7b7b7b" stroke-width="0.36" stroke-linejoin="round">Ir9</text>
<text x="0" y="0" font-size="18.06" font-weight="bold" fill="#7b7b7b" transform="translate(363.72,1008.15) scale(0.8242,1.0000)" stroke="#7b7b7b" stroke-width="0.36" stroke-linejoin="round">10</text>
<text x="0" y="0" font-size="18.47" font-weight="bold" fill="#7b7b7b" transform="translate(401.28,987.85) scale(0.6970,1.0000)" stroke="#7b7b7b" stroke-width="0.43" stroke-linejoin="round">Ku</text>
<text x="0" y="0" font-size="18.06" font-weight="bold" fill="#7b7b7b" transform="translate(401.28,1008.15) scale(0.7665,1.0000)" stroke="#7b7b7b" stroke-width="0.39" stroke-linejoin="round">10</text>
<text x="0" y="0" font-size="18.21" font-weight="bold" fill="#7b7b7b" transform="translate(430.91,987.85) scale(0.7676,1.0000)" stroke="#7b7b7b" stroke-width="0.39" stroke-linejoin="round">NIST</text>
<text x="0" y="0" font-size="18.33" font-weight="bold" fill="#7b7b7b" transform="translate(442.97,1008.15) scale(0.7897,1.0000)" stroke="#7b7b7b" stroke-width="0.38" stroke-linejoin="round">5</text>
<text x="0" y="0" font-size="18.21" font-weight="bold" fill="#7b7b7b" transform="translate(481.44,987.85) scale(0.7789,1.0000)" stroke="#7b7b7b" stroke-width="0.39" stroke-linejoin="round">NIST</text>
<text x="0" y="0" font-size="18.06" font-weight="bold" fill="#7b7b7b" transform="translate(488.90,1008.15) scale(0.8901,1.0000)" stroke="#7b7b7b" stroke-width="0.34" stroke-linejoin="round">10</text>
<text x="0" y="0" font-size="17.38" font-weight="bold" fill="#1c1c1c" transform="translate(543.56,987.75) scale(0.8040,1.0000)" stroke="#1c1c1c" stroke-width="0.37" stroke-linejoin="round">silica</text>
<text x="0" y="0" font-size="18.33" font-weight="bold" fill="#1c1c1c" transform="translate(557.52,1008.15) scale(0.7897,1.0000)" stroke="#1c1c1c" stroke-width="0.38" stroke-linejoin="round">5</text>
<text x="0" y="0" font-size="17.38" font-weight="bold" fill="#1c1c1c" transform="translate(619.15,987.75) scale(0.8192,1.0000)" stroke="#1c1c1c" stroke-width="0.37" stroke-linejoin="round">silica</text>
<text x="0" y="0" font-size="18.06" font-weight="bold" fill="#1c1c1c" transform="translate(628.22,1008.15) scale(0.9121,1.0000)" stroke="#1c1c1c" stroke-width="0.33" stroke-linejoin="round">10</text>
<text x="0" y="0" font-size="17.38" font-weight="bold" fill="#7b7b7b" transform="translate(683.46,987.75) scale(0.8052,1.0000)" stroke="#7b7b7b" stroke-width="0.37" stroke-linejoin="round">silica</text>
<text x="0" y="0" font-size="18.33" font-weight="bold" fill="#7b7b7b" transform="translate(696.97,1008.15) scale(0.8774,1.0000)" stroke="#7b7b7b" stroke-width="0.34" stroke-linejoin="round">5</text>
<text x="0" y="0" font-size="17.38" font-weight="bold" fill="#7b7b7b" transform="translate(736.77,987.75) scale(0.7959,1.0000)" stroke="#7b7b7b" stroke-width="0.38" stroke-linejoin="round">silica</text>
<text x="0" y="0" font-size="18.06" font-weight="bold" fill="#7b7b7b" transform="translate(745.96,1008.15) scale(0.8736,1.0000)" stroke="#7b7b7b" stroke-width="0.34" stroke-linejoin="round">10</text>
</svg>
</body></html>
